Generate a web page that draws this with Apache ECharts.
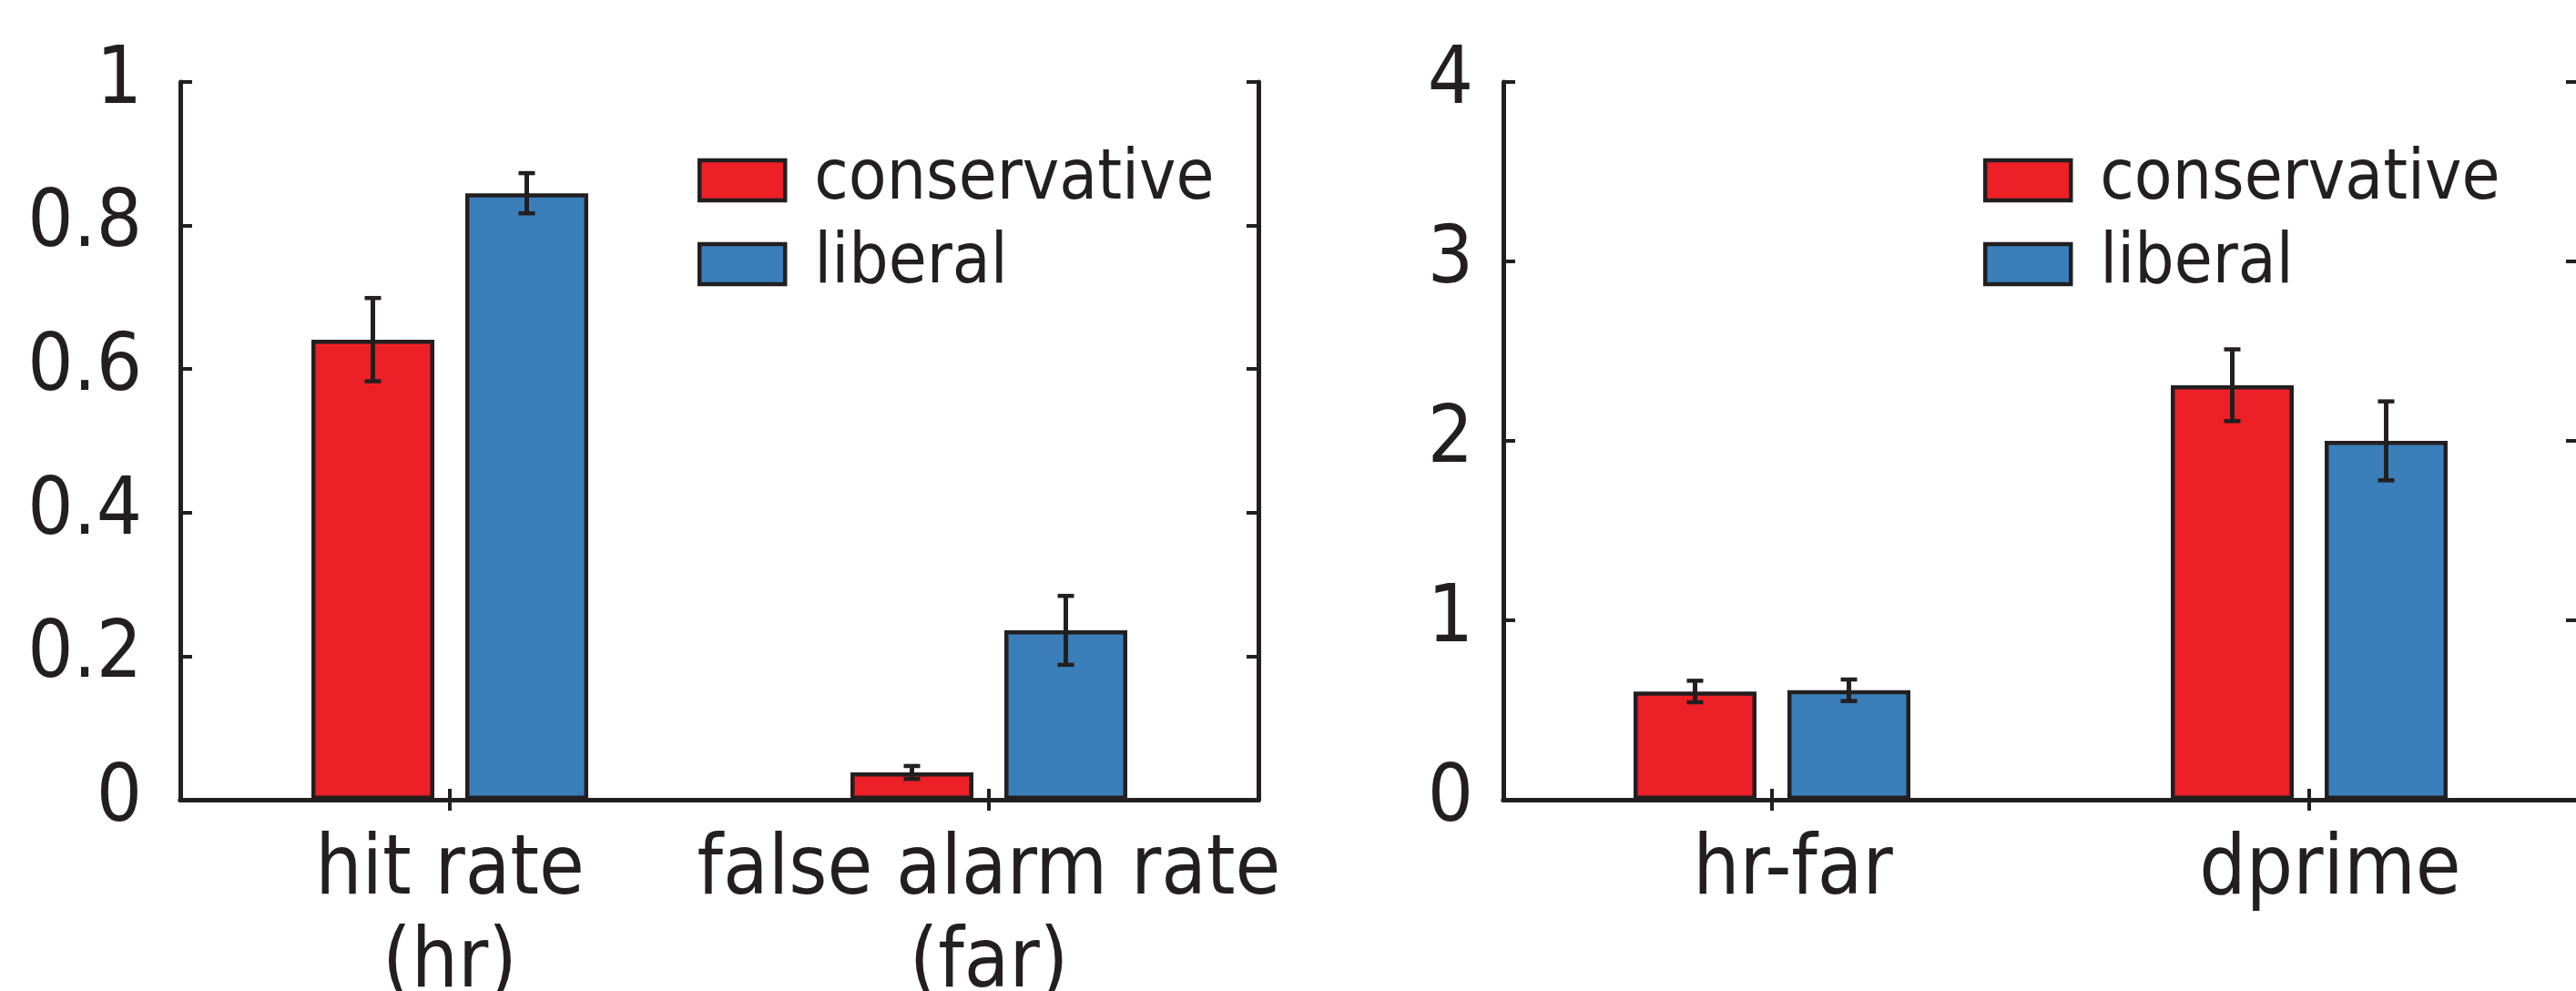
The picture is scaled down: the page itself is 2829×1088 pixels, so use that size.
<!DOCTYPE html>
<html>
<head>
<meta charset="utf-8">
<script src="https://cdn.jsdelivr.net/npm/echarts@6/dist/echarts.min.js"></script>
<style>
  html, body { margin: 0; padding: 0; background: #fff; }
  #chart { width: 2829px; height: 1088px; }
</style>
</head>
<body>
<div id="chart"></div>
<script>
// data
const leftCategories = ['hit rate\n(hr)', 'false alarm rate\n(far)'];
const leftConservative = [0.641, 0.038];
const leftConservativeErr = [0.058, 0.009];
const leftLiberal = [0.845, 0.236];
const leftLiberalErr = [0.028, 0.048];

const rightCategories = ['hr-far', 'dprime'];
const rightConservative = [0.603, 2.31];
const rightConservativeErr = [0.06, 0.2];
const rightLiberal = [0.61, 2.0];
const rightLiberalErr = [0.06, 0.22];

const groups = ['conservative', 'liberal'];

const INK = '#231f20';
const RED = '#ed2027';
const BLUE = '#3a7fba';
const FONT = "'DejaVu Sans Condensed', 'DejaVu Sans'";
const BAR_W = 135;
const BAR_GAP = 34;

const chart = echarts.init(document.getElementById('chart'));

const xBottom = (grid, cats, pad) => ({
  type: 'category', gridIndex: grid, position: 'bottom', data: cats,
  axisLine: { show: true, onZero: false, lineStyle: { color: INK, width: 5 } },
  axisTick: { show: true, inside: true, alignWithLabel: true, length: 12, lineStyle: { color: INK, width: 4 } },
  axisLabel: {
    interval: 0, hideOverlap: false, color: INK, fontFamily: FONT,
    fontSize: 90, lineHeight: 102, margin: 29, padding: pad
  }
});
const xTop = (grid, cats) => ({
  type: 'category', gridIndex: grid, position: 'top', data: cats,
  axisLine: { show: true, lineStyle: { color: INK, width: 5 } },
  axisTick: { show: true, inside: true, alignWithLabel: true, length: 12, lineStyle: { color: INK, width: 4 } },
  axisLabel: { show: false }
});
const yAxisOf = (grid, pos, max, interval, labels, margin) => ({
  type: 'value', gridIndex: grid, position: pos, min: 0, max: max, interval: interval,
  axisLine: { show: true, lineStyle: { color: INK, width: 5 } },
  axisTick: { show: true, inside: true, length: 13, lineStyle: { color: INK, width: 4 } },
  splitLine: { show: false },
  axisLabel: { show: labels, color: INK, fontFamily: FONT, fontSize: 88, margin: margin }
});

const barSeries = (name, color, values, xi, yi) => ({
  name: name, type: 'bar', xAxisIndex: xi, yAxisIndex: yi,
  data: values, barWidth: BAR_W, barGap: (BAR_GAP / BAR_W * 100) + '%',
  itemStyle: { color: color, borderColor: INK, borderWidth: 4.5 },
  emphasis: { disabled: true }
});

const errSeries = (name, values, errs, side, xi, yi) => ({
  name: name, type: 'custom', xAxisIndex: xi, yAxisIndex: yi, z: 10,
  data: values.map((v, i) => [i, v, errs[i]]),
  encode: { x: 0, y: 1 },
  renderItem: function (params, api) {
    const cat = api.value(0), v = api.value(1), e = api.value(2);
    const hi = api.coord([cat, v + e]);
    const lo = api.coord([cat, v - e]);
    const x = hi[0] + side * (BAR_W + BAR_GAP) / 2;
    return {
      type: 'group',
      children: [
        { type: 'line', shape: { x1: x, y1: hi[1], x2: x, y2: lo[1] }, style: { stroke: INK, lineWidth: 5 } },
        { type: 'line', shape: { x1: x - 9, y1: hi[1], x2: x + 9, y2: hi[1] }, style: { stroke: INK, lineWidth: 4.5 } },
        { type: 'line', shape: { x1: x - 9, y1: lo[1], x2: x + 9, y2: lo[1] }, style: { stroke: INK, lineWidth: 4.5 } }
      ]
    };
  }
});

const legendOf = (left) => ({
  orient: 'vertical', left: left, top: 160, padding: 0,
  data: groups, icon: 'rect',
  itemWidth: 94, itemHeight: 44, itemGap: 16,
  itemStyle: { borderColor: INK, borderWidth: 4.5 },
  textStyle: { color: INK, fontFamily: FONT, fontSize: 76, padding: [0, 0, 0, 27] },
  selectedMode: false
});

chart.setOption({
  animation: false,
  backgroundColor: '#fff',
  grid: [
    { left: 198, top: 90, width: 1184, height: 788, outerBoundsMode: 'none' },
    { left: 1651, top: 90, width: 1180, height: 788, outerBoundsMode: 'none' }
  ],
  legend: [legendOf(766), legendOf(2178)],
  xAxis: [
    xBottom(0, leftCategories, [0, 0, 0, 0]),
    xTop(0, leftCategories),
    xBottom(1, rightCategories, [0, 0, 0, 46]),
    xTop(1, rightCategories)
  ],
  yAxis: [
    yAxisOf(0, 'left', 1, 0.2, true, 42),
    yAxisOf(0, 'right', 1, 0.2, false, 8),
    yAxisOf(1, 'left', 4, 1, true, 33),
    yAxisOf(1, 'right', 4, 1, false, 8)
  ],
  series: [
    barSeries('conservative', RED, leftConservative, 0, 0),
    barSeries('liberal', BLUE, leftLiberal, 0, 0),
    errSeries('err-c-left', leftConservative, leftConservativeErr, -1, 0, 0),
    errSeries('err-l-left', leftLiberal, leftLiberalErr, 1, 0, 0),
    barSeries('conservative', RED, rightConservative, 2, 2),
    barSeries('liberal', BLUE, rightLiberal, 2, 2),
    errSeries('err-c-right', rightConservative, rightConservativeErr, -1, 2, 2),
    errSeries('err-l-right', rightLiberal, rightLiberalErr, 1, 2, 2)
  ]
});
</script>
</body>
</html>
